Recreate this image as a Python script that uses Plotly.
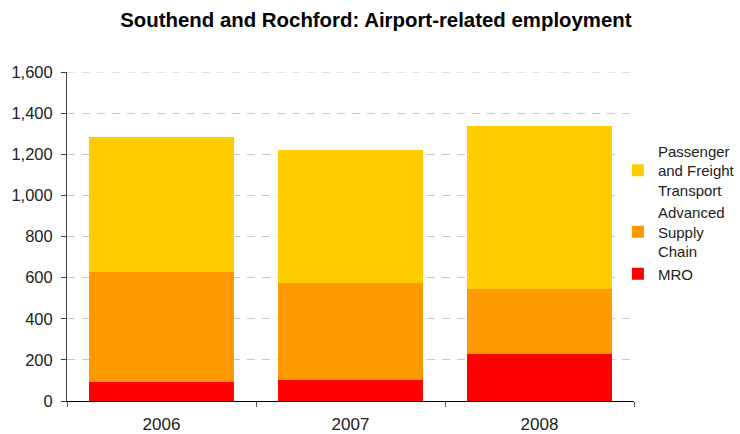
import plotly.graph_objects as go

years = ["2006", "2007", "2008"]
mro = [94, 103, 230]
advanced_supply_chain = [531, 472, 316]
passenger_freight = [659, 646, 792]
y_ticks = list(range(0, 1601, 200))

series = [
    ("MRO", mro, "#FF0000"),
    ("Advanced<br>Supply<br>Chain", advanced_supply_chain, "#FF9900"),
    ("Passenger<br>and Freight<br>Transport", passenger_freight, "#FFCC00"),
]

grid_color = "#C8C8C8"
grid_dash = "8px,7px"

fig = go.Figure()
for name, vals, color in series:
    fig.add_trace(go.Bar(
        x=years, y=vals, name=name, marker_color=color,
        marker_line_width=0, legendgroup=name,
    ))

# top gridline at the axis maximum
fig.add_shape(
    type="line", xref="paper", yref="y", x0=0, x1=1, y0=y_ticks[-1], y1=y_ticks[-1],
    line=dict(color=grid_color, width=1, dash=grid_dash), layer="below",
)

fig.update_layout(
    barmode="stack",
    bargap=0.228,
    width=740, height=434,
    margin=dict(l=67, r=106, t=72, b=33, autoexpand=False),
    paper_bgcolor="white", plot_bgcolor="white",
    font=dict(family="Liberation Sans, Arial, sans-serif", size=16, color="#222222"),
    title=dict(
        text="<b>Southend and Rochford: Airport-related employment</b>",
        x=0.508, xanchor="center", y=0.955, yanchor="middle",
        font=dict(size=20.4, color="#000000"),
    ),
    legend=dict(
        xref="container", x=0.835, xanchor="left", y=0.81, yanchor="top",
        traceorder="reversed", tracegroupgap=10,
        font=dict(size=15, color="#222222"),
        itemwidth=30,
    ),
    xaxis=dict(
        type="category", tickson="boundaries", ticks="outside", ticklen=5,
        tickcolor="#555555", showline=True, linecolor="#000000", linewidth=1,
        showgrid=False, tickfont=dict(size=17), automargin=False,
        ticklabelstandoff=8,
    ),
    yaxis=dict(
        range=[0, 1600], tickvals=y_ticks, tickformat=",d",
        ticks="outside", ticklen=5, tickcolor="#444444",
        showline=True, linecolor="#444444", linewidth=1,
        showgrid=True, gridcolor=grid_color, griddash=grid_dash, gridwidth=1,
        zeroline=False, tickfont=dict(size=16.5), automargin=False,
        ticklabelstandoff=5,
    ),
)

fig.write_html("out.html")
